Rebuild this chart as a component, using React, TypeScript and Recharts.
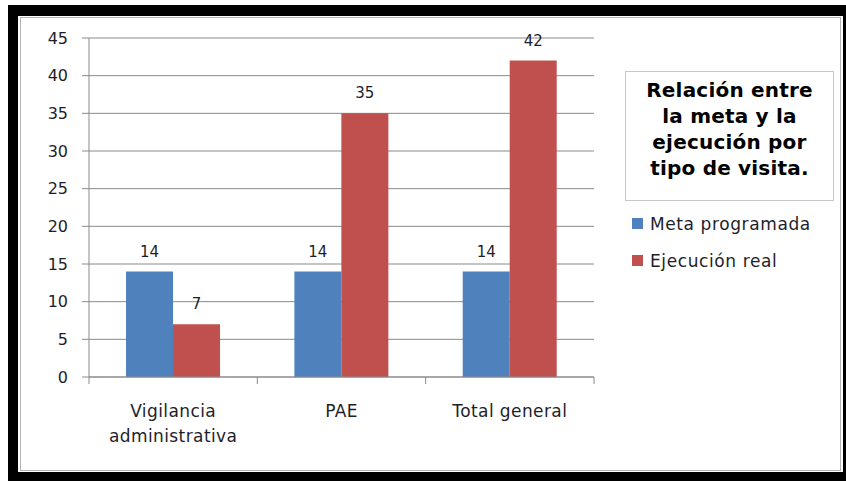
import { JSX } from 'react';
import {
  Bar,
  BarChart,
  CartesianGrid,
  LabelList,
  Legend,
  XAxis,
  YAxis,
} from 'recharts';

const categories = ['Vigilancia administrativa', 'PAE', 'Total general'];
const metaProgramada = [14, 14, 14];
const ejecucionReal = [7, 35, 42];
const yTicks = [0, 5, 10, 15, 20, 25, 30, 35, 40, 45];
const seriesNames = ['Meta programada', 'Ejecución real'];
const seriesColors = ['#4f81bd', '#c0504d'];
const titleLines = ['Relación entre', 'la meta y la', 'ejecución por', 'tipo de visita.'];

const data = categories.map((name, i) => ({
  name,
  meta: metaProgramada[i],
  real: ejecucionReal[i],
}));

const FONT = '"DejaVu Sans", Verdana, sans-serif';
const AXIS = '#8a8a8a';
const TEXT = '#1e1e2a';

type TickProps = {
  x?: number;
  y?: number;
  index?: number;
  payload?: { value: string; offset?: number };
};

const CategoryTick = ({ x = 0, y = 0, index = 0, payload }: TickProps): JSX.Element => {
  const half = payload?.offset || 84;
  const value = String(payload?.value ?? '');
  // Excel wraps only the long label
  const lines = value.length > 16 ? value.split(' ') : [value];
  return (
    <g>
      <line x1={x - half} y1={y} x2={x - half} y2={y + 7} stroke={AXIS} />
      {index === categories.length - 1 && (
        <line x1={x + half} y1={y} x2={x + half} y2={y + 7} stroke={AXIS} />
      )}
      <text x={x} y={y + 40} textAnchor='middle' fill={TEXT} fontSize={17} fontFamily={FONT} letterSpacing={0.4}>
        {lines.map((l, i) => (
          <tspan key={i} x={x} dy={i === 0 ? 0 : 25}>
            {l}
          </tspan>
        ))}
      </text>
    </g>
  );
};

const LegendBox = (): JSX.Element => (
  <div style={{ fontFamily: FONT, color: TEXT }}>
    <div
      style={{
        width: 207,
        height: 123,
        border: '1px solid #c8c8c8',
        paddingTop: 5,
        boxSizing: 'content-box',
        textAlign: 'center',
        fontWeight: 'bold',
        fontSize: 20,
        lineHeight: '26px',
        letterSpacing: 0.2,
        color: '#000',
      }}
    >
      {titleLines.map((l) => (
        <div key={l}>{l}</div>
      ))}
    </div>
    <div style={{ marginTop: 4 }}>
      {seriesNames.map((name, i) => (
        <div key={name} style={{ display: 'flex', alignItems: 'center', height: 37, paddingLeft: 7 }}>
          <span style={{ width: 11, height: 11, background: seriesColors[i], display: 'inline-block', marginRight: 7 }} />
          <span style={{ fontSize: 17, letterSpacing: 0.6 }}>{name}</span>
        </div>
      ))}
    </div>
  </div>
);

export default function App(): JSX.Element {
  return (
    <div style={{ position: 'fixed', left: 0, top: 0, width: 846, height: 481, background: '#fff', overflow: 'hidden' }}>
      <div
        style={{
          position: 'absolute',
          left: 8,
          top: 5,
          width: 846,
          height: 476,
          borderStyle: 'solid',
          borderColor: '#000',
          borderWidth: '11px 11px 9px 10px',
          boxSizing: 'border-box',
        }}
      />
      <div
        style={{
          position: 'absolute',
          left: 20,
          top: 17,
          width: 821,
          height: 454,
          border: '1px solid #b4b4b4',
          boxSizing: 'border-box',
        }}
      />
      <div style={{ position: 'absolute', left: 0, top: 0 }}>
        <BarChart
          width={846}
          height={481}
          data={data}
          margin={{ top: 38, right: 252, bottom: 44, left: 29 }}
          barCategoryGap='22%'
          barGap={0}
        >
          <CartesianGrid vertical={false} stroke={AXIS} />
          <XAxis
            dataKey='name'
            height={60}
            stroke={AXIS}
            tickLine={false}
            tickSize={0}
            tickMargin={0}
            interval={0}
            tick={<CategoryTick />}
          />
          <YAxis
            width={60}
            domain={[0, 45]}
            ticks={yTicks}
            stroke={AXIS}
            tickSize={7}
            tickMargin={14}
            tick={{ fill: TEXT, fontSize: 16, fontFamily: FONT }}
          />
          <Legend
            layout='horizontal'
            verticalAlign='middle'
            align='center'
            wrapperStyle={{ position: 'absolute', left: 625, top: 71, width: 215 }}
            content={<LegendBox />}
          />
          <Bar dataKey='meta' name={seriesNames[0]} fill={seriesColors[0]} isAnimationActive={false}>
            <LabelList dataKey='meta' position='top' offset={15} fill={TEXT} fontSize={15} fontFamily={FONT} />
          </Bar>
          <Bar dataKey='real' name={seriesNames[1]} fill={seriesColors[1]} isAnimationActive={false}>
            <LabelList dataKey='real' position='top' offset={15} fill={TEXT} fontSize={15} fontFamily={FONT} />
          </Bar>
        </BarChart>
      </div>
    </div>
  );
}
